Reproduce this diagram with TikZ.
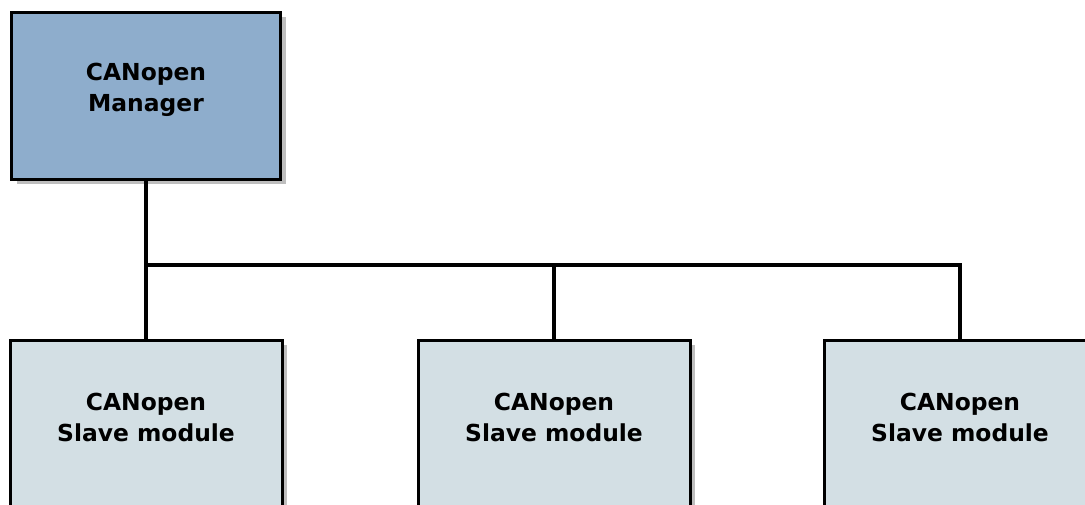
\documentclass[tikz,border=0pt]{standalone}
\usepackage{fontspec}
\setmainfont{DejaVu Sans}
\usetikzlibrary{positioning, shadows}
\definecolor{managerblue}{HTML}{8EADCC}
\definecolor{slavegrey}{HTML}{D3DFE4}
\definecolor{shadowgrey}{HTML}{BEBEBE}
\tikzstyle{boxshadow} = [drop shadow={shadow xshift=5pt, shadow yshift=-5pt, fill=shadowgrey, opacity=1}]
\tikzstyle{manager} = [rectangle, minimum width=269pt, minimum height=167pt, draw=black, line width=3pt, fill=managerblue, boxshadow]
\tikzstyle{slave} = [rectangle, minimum width=272pt, minimum height=167pt, draw=black, line width=3pt, fill=slavegrey, boxshadow]
\tikzstyle{boxtext} = [font=\bfseries\fontsize{23.4}{31}\selectfont, align=center, inner sep=0pt]
\tikzstyle{bus} = [line width=3.5pt]

\begin{document}
\begin{tikzpicture}[x=1pt, y=1pt]
        \useasboundingbox (0,0) rectangle (1085,-504);
        \node (manager) [manager] at (146,-95.5) {};
        \node (slave1) [slave] at (146,-423.5) {};
        \node (slave2) [slave, right=133pt of slave1] {};
        \node (slave3) [slave, right=131pt of slave2] {};

        \node (managertext) [boxtext] at ([yshift=5.5pt]manager.center) {CANopen\\Manager};
        \node (slave1text) [boxtext] at ([yshift=6.5pt]slave1.center) {CANopen\\Slave module};
        \node (slave2text) [boxtext] at ([yshift=6.5pt]slave2.center) {CANopen\\Slave module};
        \node (slave3text) [boxtext] at ([yshift=6.5pt]slave3.center) {CANopen\\Slave module};

        % Bus line
        \coordinate (busline) at (0,-265);
        \draw [bus] (manager.south) -- (slave1.north);
        \draw [bus] (manager.south |- busline) -| (slave3.north);
        \draw [bus] (slave2.north |- busline) -- (slave2.north);
    \end{tikzpicture}
\end{document}
